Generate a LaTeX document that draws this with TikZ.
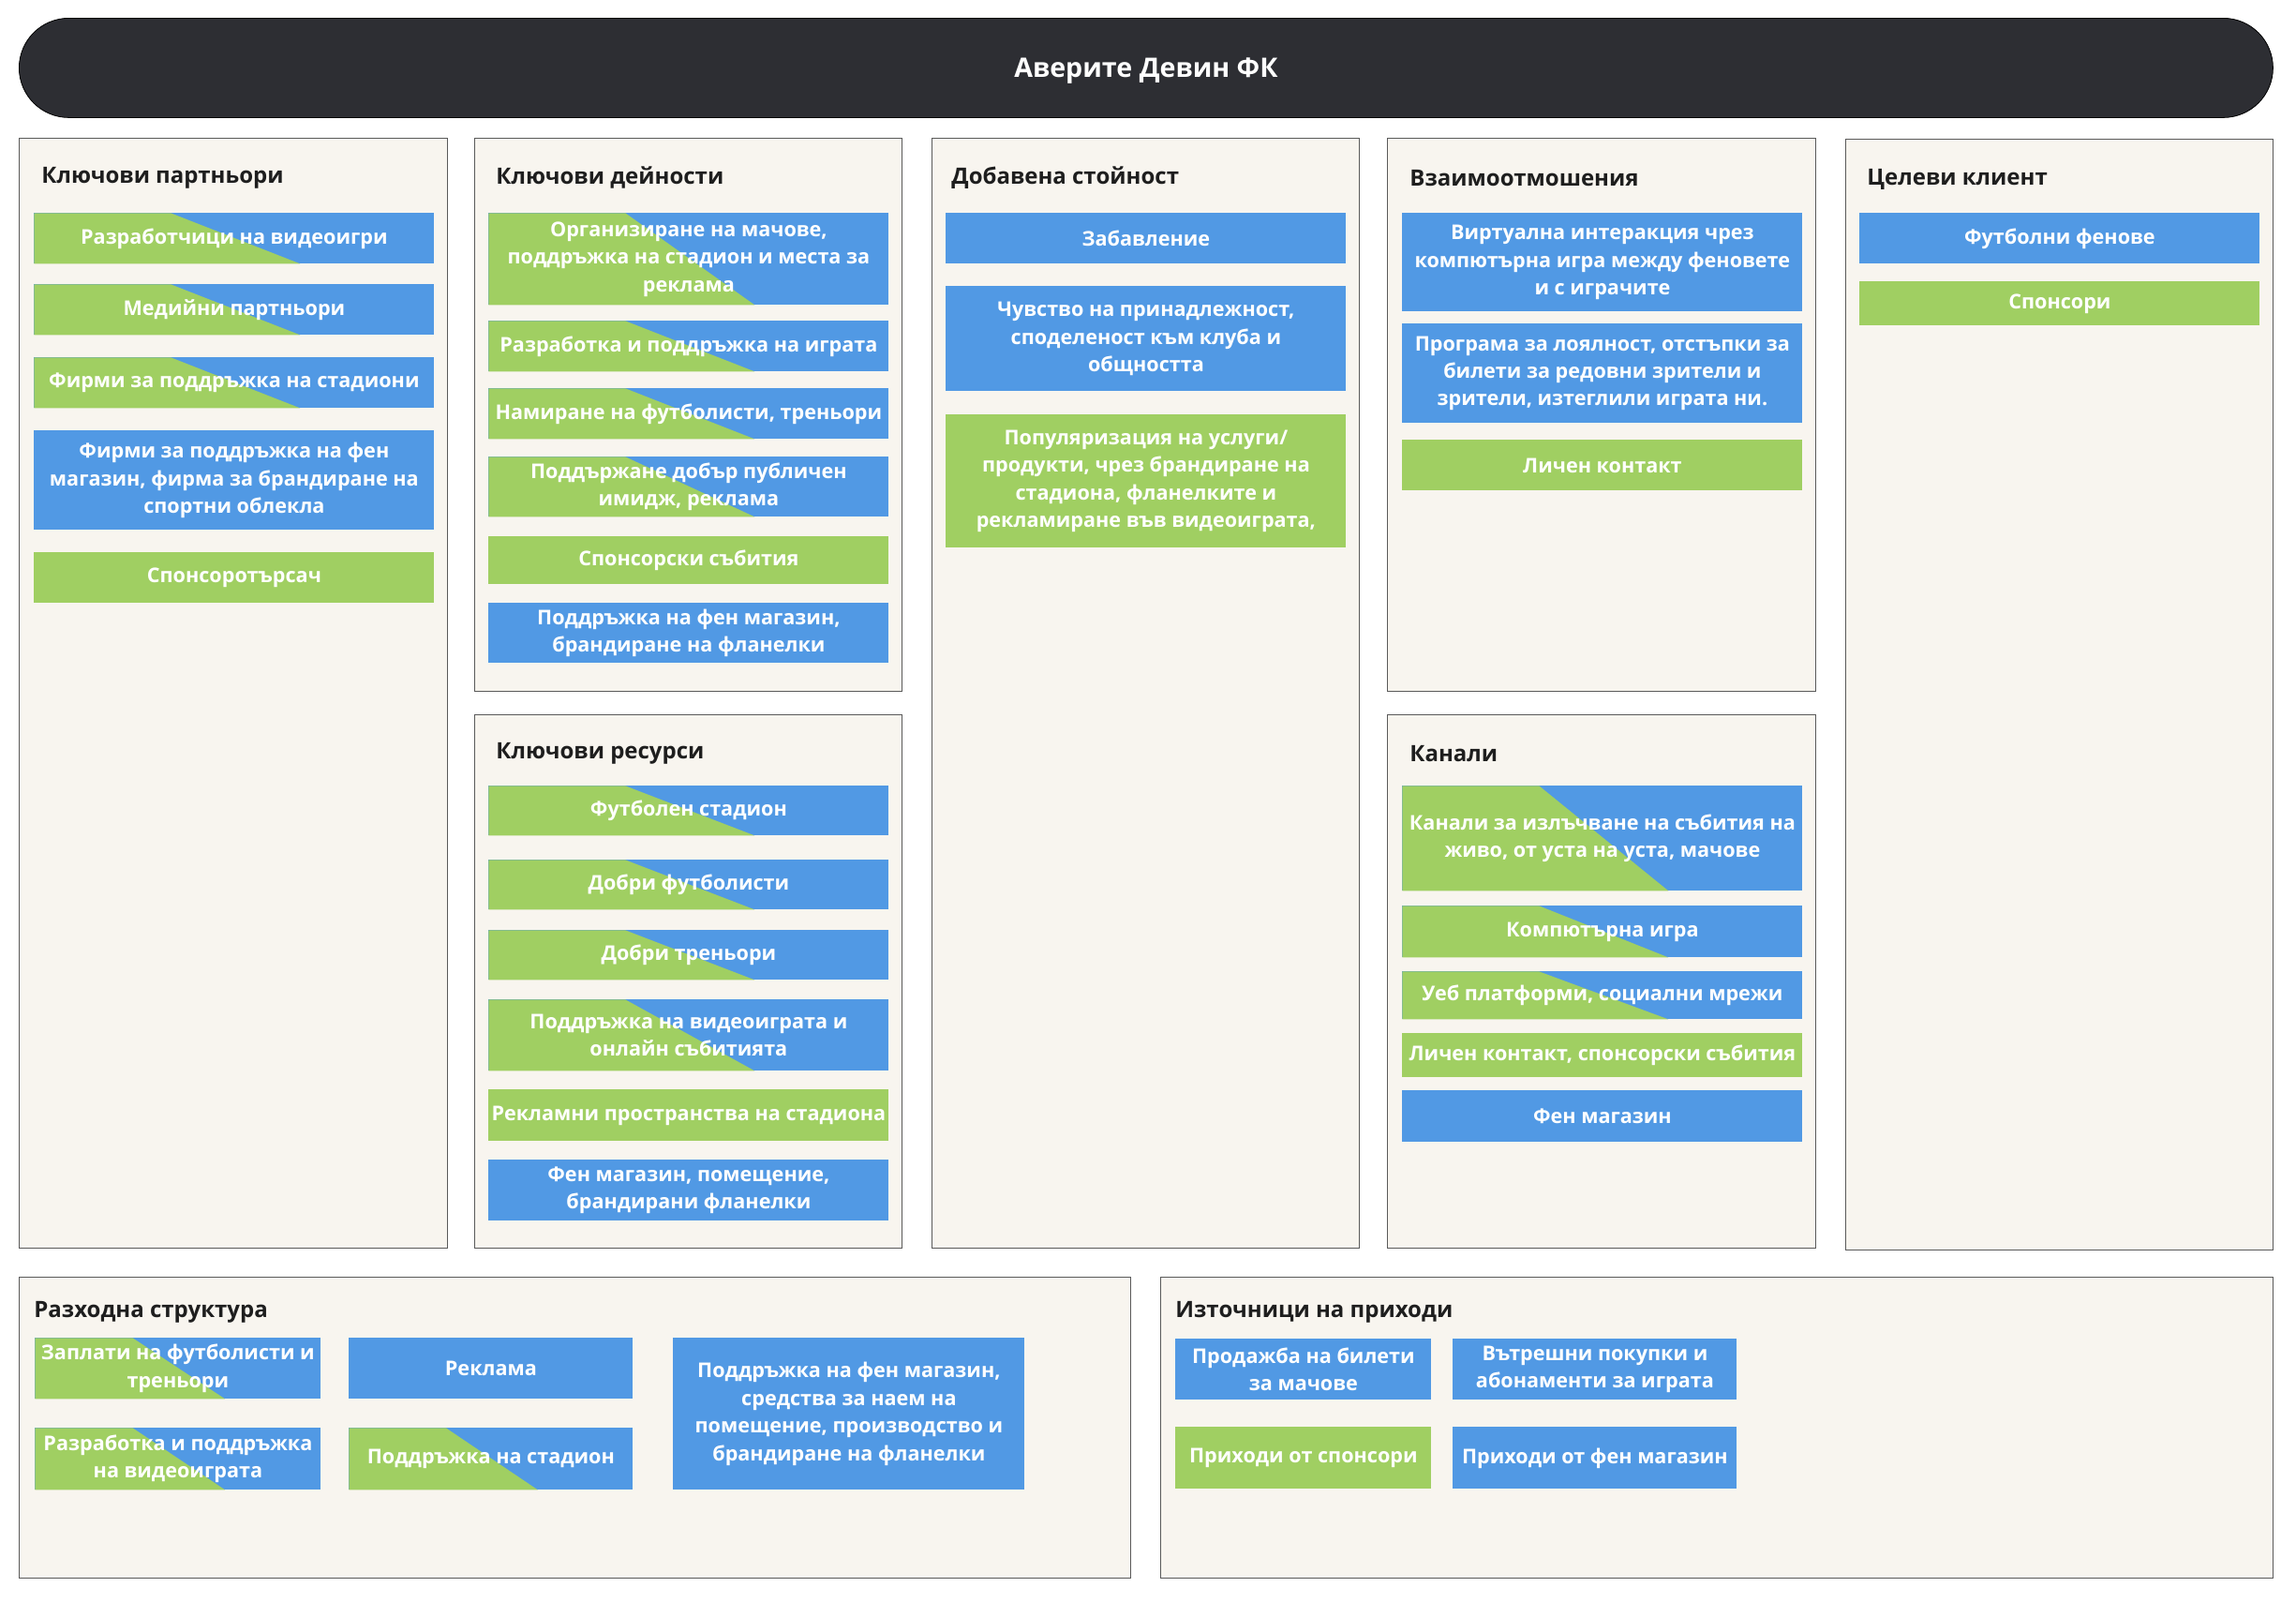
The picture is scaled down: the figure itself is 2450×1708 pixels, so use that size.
\documentclass[tikz,border=0pt]{standalone}
\usepackage{fontspec}
\setmainfont{Open Sans}
\usetikzlibrary{calc}

\definecolor{barcol}{HTML}{2D2E33}
\definecolor{panelcol}{HTML}{F8F5EF}
\definecolor{edgecol}{HTML}{5A5A5A}
\definecolor{cardblue}{HTML}{5199E4}
\definecolor{cardgreen}{HTML}{A0CF62}
\definecolor{headcol}{HTML}{1E1E1E}

\tikzset{
  panel/.style={draw=edgecol, line width=0.7pt, fill=panelcol, anchor=north west, inner sep=0pt},
  paneltitle/.style={anchor=west, inner sep=0pt, text=headcol, font=\fontsize{12}{14}\selectfont\bfseries},
  card/.style={anchor=north west, inner sep=0pt, align=center, text=white, font=\fontsize{10.8}{14.7}\selectfont\bfseries},
  bluecard/.style={fill=cardblue},
  greencard/.style={fill=cardgreen},
  splitcard/.style={fill=cardblue, path picture={
    \fill[cardgreen] (path picture bounding box.north west)
      -- ($(path picture bounding box.north west)!0.342!(path picture bounding box.north east)$)
      -- ($(path picture bounding box.south west)!0.665!(path picture bounding box.south east)$)
      -- (path picture bounding box.south west) -- cycle;}}
}

\newcommand{\bmpanel}[5]{\node[panel, minimum width={(#4-#2)*0.5pt}, minimum height={(#5-#3)*0.5pt}] (#1) at (#2,#3) {};}
\newcommand{\bmcard}[7]{\node[card, #1, minimum width={(#5-#3)*0.5pt}, minimum height={(#6-#4)*0.5pt}] (#2) at (#3,#4) {#7};}

\begin{document}
\begin{tikzpicture}[x=0.5pt, y=-0.5pt]
    \useasboundingbox[fill=white] (0,0) rectangle (2450,1708);
    \node[fill=barcol, draw=black, rounded corners=26.5pt, anchor=north west, minimum width=1202.5pt, minimum height=53pt,
      text depth=0pt, text=white, font=\fontsize{14.3}{17}\selectfont\bfseries] (bar) at (20,19) {Аверите Девин ФК};

    \bmpanel{kp}{20}{147}{477}{1331}
    \bmpanel{ka}{506}{147}{962}{737}
    \bmpanel{kr}{506}{762}{962}{1331}
    \bmpanel{vp}{994}{147}{1450}{1331}
    \bmpanel{cr}{1480}{147}{1937}{737}
    \bmpanel{ch}{1480}{762}{1937}{1331}
    \bmpanel{cs}{1969}{148}{2425}{1333}
    \bmpanel{co}{20}{1362}{1206}{1683}
    \bmpanel{rs}{1238}{1362}{2425}{1683}

    \node[paneltitle] (kptitle) at (44,190) {Ключови партньори};
    \node[paneltitle] (katitle) at (529,189) {Ключови дейности};
    \node[paneltitle] (krtitle) at (529,804) {Ключови ресурси};
    \node[paneltitle] (vptitle) at (1015,190) {Добавена стойност};
    \node[paneltitle] (crtitle) at (1504,190) {Взаимоотмошения};
    \node[paneltitle] (chtitle) at (1504,804) {Канали};
    \node[paneltitle] (cstitle) at (1992,191) {Целеви клиент};
    \node[paneltitle] (cotitle) at (36,1400) {Разходна структура};
    \node[paneltitle] (rstitle) at (1254,1400) {Източници на приходи};

    \bmcard{splitcard}{kp1}{36}{227}{463}{281}{Разработчици на видеоигри}
    \bmcard{splitcard}{kp2}{36}{303}{463}{357}{Медийни партньори}
    \bmcard{splitcard}{kp3}{36}{381}{463}{435}{Фирми за поддръжка на стадиони}
    \bmcard{bluecard}{kp4}{36}{459}{463}{565}{Фирми за поддръжка на фен\\магазин, фирма за брандиране на\\спортни облекла}
    \bmcard{greencard}{kp5}{36}{589}{463}{643}{Спонсоротърсач}

    \bmcard{splitcard}{ka1}{521}{227}{948}{325}{Организиране на мачове,\\поддръжка на стадион и места за\\реклама}
    \bmcard{splitcard}{ka2}{521}{342}{948}{396}{Разработка и поддръжка на играта}
    \bmcard{splitcard}{ka3}{521}{414}{948}{468}{Намиране на футболисти, треньори}
    \bmcard{splitcard}{ka4}{521}{487}{948}{551}{Поддържане добър публичен\\имидж, реклама}
    \bmcard{greencard}{ka5}{521}{572}{948}{623}{Спонсорски събития}
    \bmcard{bluecard}{ka6}{521}{643}{948}{707}{Поддръжка на фен магазин,\\брандиране на фланелки}

    \bmcard{splitcard}{kr1}{521}{838}{948}{891}{Футболен стадион}
    \bmcard{splitcard}{kr2}{521}{917}{948}{970}{Добри футболисти}
    \bmcard{splitcard}{kr3}{521}{992}{948}{1045}{Добри треньори}
    \bmcard{splitcard}{kr4}{521}{1066}{948}{1142}{Поддръжка на видеоиграта и\\онлайн събитията}
    \bmcard{greencard}{kr5}{521}{1162}{948}{1217}{Рекламни пространства на стадиона}
    \bmcard{bluecard}{kr6}{521}{1237}{948}{1302}{Фен магазин, помещение,\\брандирани фланелки}

    \bmcard{bluecard}{vp1}{1009}{227}{1436}{281}{Забавление}
    \bmcard{bluecard}{vp2}{1009}{305}{1436}{417}{Чувство на принадлежност,\\споделеност към клуба и\\общността}
    \bmcard{greencard}{vp3}{1009}{442}{1436}{584}{Популяризация на услуги/\\продукти, чрез брандиране на\\стадиона, фланелките и\\рекламиране във видеоиграта,}

    \bmcard{bluecard}{cr1}{1496}{227}{1923}{332}{Виртуална интеракция чрез\\компютърна игра между феновете\\и с играчите}
    \bmcard{bluecard}{cr2}{1496}{345}{1923}{451}{Програма за лоялност, отстъпки за\\билети за редовни зрители и\\зрители, изтеглили играта ни.}
    \bmcard{greencard}{cr3}{1496}{469}{1923}{523}{Личен контакт}

    \bmcard{splitcard}{ch1}{1496}{838}{1923}{950}{Канали за излъчване на събития на\\живо, от уста на уста, мачове}
    \bmcard{splitcard}{ch2}{1496}{966}{1923}{1021}{Компютърна игра}
    \bmcard{splitcard}{ch3}{1496}{1036}{1923}{1087}{Уеб платформи, социални мрежи}
    \bmcard{greencard}{ch4}{1496}{1102}{1923}{1149}{Личен контакт, спонсорски събития}
    \bmcard{bluecard}{ch5}{1496}{1163}{1923}{1218}{Фен магазин}

    \bmcard{bluecard}{cs1}{1984}{227}{2411}{281}{Футболни фенове}
    \bmcard{greencard}{cs2}{1984}{300}{2411}{347}{Спонсори}

    \bmcard{splitcard}{co1}{37}{1427}{342}{1492}{Заплати на футболисти и\\треньори}
    \bmcard{splitcard}{co2}{37}{1523}{342}{1589}{Разработка и поддръжка\\на видеоиграта}
    \bmcard{bluecard}{co3}{372}{1427}{675}{1492}{Реклама}
    \bmcard{splitcard}{co4}{372}{1523}{675}{1589}{Поддръжка на стадион}
    \bmcard{bluecard}{co5}{718}{1427}{1093}{1589}{Поддръжка на фен магазин,\\средства за наем на\\помещение, производство и\\брандиране на фланелки}

    \bmcard{bluecard}{rs1}{1254}{1428}{1527}{1493}{Продажба на билети\\за мачове}
    \bmcard{bluecard}{rs2}{1550}{1428}{1853}{1493}{Вътрешни покупки и\\абонаменти за играта}
    \bmcard{greencard}{rs3}{1254}{1522}{1527}{1588}{Приходи от спонсори}
    \bmcard{bluecard}{rs4}{1550}{1522}{1853}{1588}{Приходи от фен магазин}
  \end{tikzpicture}
\end{document}
